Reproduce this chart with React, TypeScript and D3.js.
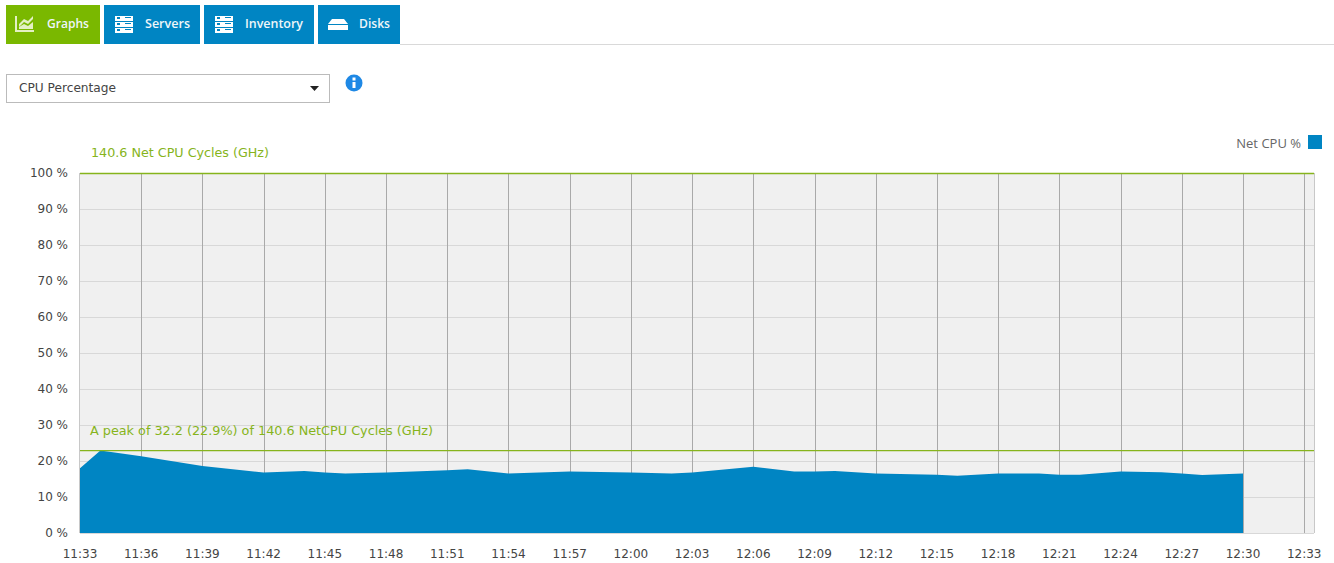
import React from "react";
import * as d3 from "d3";

const tickLabels = ["11:33","11:36","11:39","11:42","11:45","11:48","11:51","11:54","11:57","12:00","12:03","12:06","12:09","12:12","12:15","12:18","12:21","12:24","12:27","12:30","12:33"];
const yTicks = [0,10,20,30,40,50,60,70,80,90,100];
const minutes = [0,1,3,6,9,11,12,13,15,18,19,21,24,27,29,30,33,35,36,37,39,42,43,45,47,48,49,51,53,54,55,57];
const netCpu = [18,22.9,21.3,18.6,16.8,17.2,16.8,16.5,16.8,17.4,17.7,16.5,17.1,16.8,16.5,16.8,18.4,17.1,17.1,17.2,16.5,16.2,15.9,16.5,16.5,16.2,16.2,17.1,16.9,16.5,16.1,16.5];
const peak = 22.9;
const tabs = [
  { label: "Graphs", x0: 6, x1: 100, color: "#7ab800", icon: "chart", w: 42 },
  { label: "Servers", x0: 104, x1: 200, color: "#0085c3", icon: "server", w: 45 },
  { label: "Inventory", x0: 204, x1: 314, color: "#0085c3", icon: "server", w: 58 },
  { label: "Disks", x0: 318, x1: 400, color: "#0085c3", icon: "disk", w: 31 },
];
const FONT = "'DejaVu Sans', sans-serif";
const UI_FONT = "'Open Sans', sans-serif";
const x = d3.scaleLinear().domain([0, 57]).range([80, 1243]);
const y = d3.scaleLinear().domain([0, 100]).range([533, 173]);
const green = "#86b41c";
const textGray = "#444";

const pairs = minutes.map((m, i) => [m, netCpu[i]] as [number, number]);
const area = d3.area<[number, number]>().x(d => x(d[0])).y0(y(0)).y1(d => y(d[1]));

function TabIcon({ kind, cx }: { kind: string; cx: number }) {
  if (kind === "chart") {
    return (
      <g>
        <path d="M16 16V31H34" fill="none" stroke="#e4f0c4" strokeWidth={2} />
        <path d="M19 24L24 19L28 21L33 16V19L28 24L24 22L19 27Z" fill="#e4f0c4" />
        <path d="M19 29V27L24 24L28 26L33 22V29Z" fill="#e4f0c4" />
      </g>
    );
  }
  if (kind === "server") {
    return (
      <g fill="#fff">
        {[17, 23, 29].map(t => (
          <g key={t}>
            <rect x={cx - 9} y={t - 1} width={18} height={5} />
            <rect x={cx - 7} y={t} width={3} height={2} fill="#0085c3" />
            <rect x={cx + 1} y={t} width={6} height={1} fill="#0085c3" />
          </g>
        ))}
      </g>
    );
  }
  return (
    <g fill="#fff">
      <path d={`M${cx - 10} 24L${cx - 6} 19H${cx + 6}L${cx + 10} 24Z`} />
      <rect x={cx - 10} y={25} width={20} height={5} />
    </g>
  );
}

export default function App() {
  const xEnd = 1314;
  return (
    <svg width={1334} height={563} style={{ position: "absolute", left: 0, top: 0, background: "#fff" }} fontFamily={FONT}>
      <line x1={400} x2={1334} y1={44.5} y2={44.5} stroke="#d9d9d9" />
      {tabs.map(t => (
        <g key={t.label}>
          <rect x={t.x0} y={5} width={t.x1 - t.x0} height={39} fill={t.color} />
          <TabIcon kind={t.icon} cx={t.x0 + 20} />
          <text x={t.x0 + 41} y={28} fontFamily={UI_FONT} fontSize={12} fontWeight={600} fill="#eef6f9" textLength={t.w} lengthAdjust="spacingAndGlyphs">{t.label}</text>
        </g>
      ))}
      <rect x={6.5} y={74.5} width={323} height={28} fill="#fff" stroke="#bbb" />
      <text x={19} y={92} fontSize={12} fill={textGray} textLength={97} lengthAdjust="spacingAndGlyphs">CPU Percentage</text>
      <path d="M310 86H319L314.500 91Z" fill="#222" />
      <circle cx={354} cy={83} r={8.5} fill="#1e88e5" />
      <rect x={352.500} y={82} width={3} height={6} fill="#fff" />
      <rect x={352.500} y={77.500} width={3} height={3} fill="#fff" />

      <rect x={80} y={173} width={xEnd - 80} height={360} fill="#f0f0f0" />
      {yTicks.map(v => (
        <g key={v}>
          <line x1={80} x2={xEnd} y1={y(v) + 0.5} y2={y(v) + 0.5} stroke="#d8d8d8" />
          <text x={68} y={y(v) + 4} textAnchor="end" fontSize={12} fill={textGray}>{v} %</text>
        </g>
      ))}
      {tickLabels.map((label, i) => (
        <g key={label}>
          {i > 0 && <line x1={Math.round(x(i * 3)) + 0.5} x2={Math.round(x(i * 3)) + 0.5} y1={173} y2={533} stroke="#a9a9a9" />}
          <text x={x(i * 3)} y={558} textAnchor="middle" fontSize={12} fill={textGray}>{label}</text>
        </g>
      ))}
      <line x1={xEnd + 0.5} x2={xEnd + 0.5} y1={173} y2={533} stroke="#c8c8c8" />
      <line x1={79.5} x2={79.5} y1={173} y2={533} stroke="#c8c8c8" />
      <path d={area(pairs) ?? ""} fill="#0085c3" />
      <line x1={80} x2={xEnd} y1={y(100) + 0.5} y2={y(100) + 0.5} stroke={green} strokeWidth={1.3} />
      <line x1={80} x2={xEnd} y1={y(peak)} y2={y(peak)} stroke={green} strokeWidth={1.3} />
      <text x={91} y={157} fontSize={12} fill={green} textLength={178} lengthAdjust="spacingAndGlyphs">140.6 Net CPU Cycles (GHz)</text>
      <text x={90} y={435} fontSize={12} fill={green} textLength={343} lengthAdjust="spacingAndGlyphs">A peak of 32.2 (22.9%) of 140.6 NetCPU Cycles (GHz)</text>
      <text x={1301} y={148} textAnchor="end" fontFamily={UI_FONT} fontSize={13} fill="#666">Net CPU %</text>
      <rect x={1308} y={135} width={14} height={14} fill="#0085c3" />
    </svg>
  );
}
